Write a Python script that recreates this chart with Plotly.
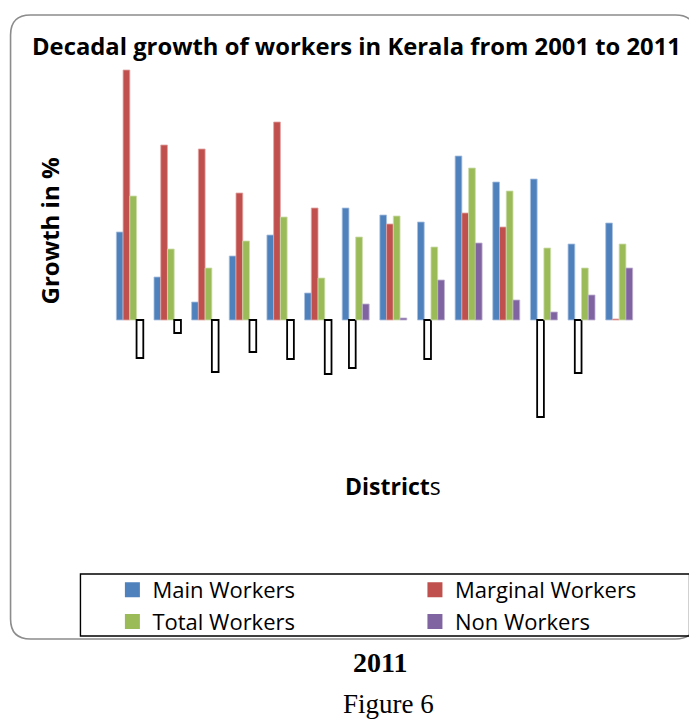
import plotly.graph_objects as go

# ---- data (growth in %, 2001-2011) ----
districts = ["Kasaragod", "Kannur", "Wayanad", "Kozhikode", "Malappuram", "Palakkad",
             "Thrissur", "Ernakulam", "Idukki", "Kottayam", "Alappuzha",
             "Pathanamthitta", "Kollam", "Thiruvananthapuram"]
main_workers = [35.2, 17.2, 7.2, 25.6, 34.0, 10.8, 44.8, 42.0, 39.2, 65.6, 55.2, 56.4, 30.4, 38.8]
marginal_workers = [100.0, 70.0, 68.4, 50.8, 79.2, 44.8, -19.2, 38.4, -15.6, 42.8, 37.2, -38.8, -21.2, 0.4]
total_workers = [49.6, 28.4, 20.8, 31.6, 41.2, 16.8, 33.2, 41.6, 29.2, 60.8, 51.6, 28.8, 20.8, 30.4]
non_workers = [-15.2, -5.2, -20.8, -12.8, -15.6, -21.6, 6.4, 0.8, 16.0, 30.8, 8.0, 3.2, 10.0, 20.8]

series_names = ["Main Workers", "Marginal Workers", "Total Workers", "Non Workers"]
series_values = [main_workers, marginal_workers, total_workers, non_workers]
series_colors = ["#4F81BD", "#C0504D", "#9BBB59", "#8064A2"]
edge_colors = ["#A9C1E0", "#E2A5A3", "#CDDDAC", "#BFB1D1"]
legend_column = ["legend", "legend2", "legend", "legend2"]

W, H = 697, 720
OFF = 8  # page body margin
L, R, T, B = 102.6, 630.4, 52, 432  # plot area in figure pixels


def px(x):  # window pixel -> paper x
    return (x - OFF - L) / (R - L)


def py(y):  # window pixel -> paper y
    return (B - (y - OFF)) / (B - T)


fig = go.Figure()
for name, vals, col, edge in zip(series_names, series_values, series_colors, edge_colors):
    fig.add_trace(go.Bar(
        x=districts, y=vals, name=name, showlegend=False,
        marker=dict(
            color=[col if v >= 0 else "white" for v in vals],
            line=dict(color=[edge if v >= 0 else "black" for v in vals],
                      width=[0.8 if v >= 0 else 1.8 for v in vals]),
        ),
    ))
for name, col, lg in zip(series_names, series_colors, legend_column):
    fig.add_trace(go.Scatter(
        x=[None], y=[None], mode="markers", name=name, legend=lg,
        marker=dict(symbol="square", size=13, color=col, line=dict(color=col, width=2)),
    ))

# frame with rounded corners
x0, y0, x1, y1, r = 10, 15, 696, 639, 20
path = (f"M {px(x0 + r)},{py(y0)} L {px(x1 - r)},{py(y0)} Q {px(x1)},{py(y0)} {px(x1)},{py(y0 + r)} "
        f"L {px(x1)},{py(y1 - r)} Q {px(x1)},{py(y1)} {px(x1 - r)},{py(y1)} "
        f"L {px(x0 + r)},{py(y1)} Q {px(x0)},{py(y1)} {px(x0)},{py(y1 - r)} "
        f"L {px(x0)},{py(y0 + r)} Q {px(x0)},{py(y0)} {px(x0 + r)},{py(y0)} Z")
fig.add_shape(type="path", xref="paper", yref="paper", path=path,
              line=dict(color="#8C8C8C", width=1.6), layer="below")
# legend box
fig.add_shape(type="rect", xref="paper", yref="paper",
              x0=px(80), x1=px(690), y0=py(574), y1=py(636),
              line=dict(color="black", width=1.4))

font_sans = "Open Sans"
font_serif = "Liberation Serif"
annos = [
    dict(text="<b>Decadal growth of workers in Kerala from 2001 to 2011</b>", x=px(29), y=py(46),
         xanchor="left", yanchor="middle", font=dict(family=font_sans, size=23.8, color="black")),
    dict(text="<b>Growth in %</b>", x=px(50), y=py(231), textangle=-90,
         xanchor="center", yanchor="middle", font=dict(family=font_sans, size=24, color="black")),
    dict(text="<b>District</b>s", x=px(393), y=py(486),
         xanchor="center", yanchor="middle", font=dict(family=font_sans, size=23, color="black")),
    dict(text="<b>2011</b>", x=px(380.5), y=py(662),
         xanchor="center", yanchor="middle", font=dict(family=font_serif, size=28, color="black")),
    dict(text="Figure 6", x=px(388.5), y=py(704),
         xanchor="center", yanchor="middle", font=dict(family=font_serif, size=27, color="black")),
]
for a in annos:
    fig.add_annotation(xref="paper", yref="paper", showarrow=False, **a)

legend_common = dict(orientation="v", xref="paper", yref="paper", xanchor="left", yanchor="top",
                     font=dict(family=font_sans, size=22, color="black"),
                     bgcolor="rgba(0,0,0,0)", tracegroupgap=0, itemwidth=30)

fig.update_layout(
    width=W, height=H,
    margin=dict(l=L, r=W - R, t=T, b=H - B, autoexpand=False),
    paper_bgcolor="white", plot_bgcolor="white",
    barmode="group", bargap=0.284, bargroupgap=0,
    showlegend=True,
    legend=dict(x=px(112), y=py(569), **legend_common),
    legend2=dict(x=px(415), y=py(569), **legend_common),
    xaxis=dict(showticklabels=False, showgrid=False, zeroline=False, showline=False, ticks=""),
    yaxis=dict(range=[-48, 104], showticklabels=False, showgrid=False, zeroline=False,
               showline=False, ticks=""),
)

fig.write_html("out.html")
